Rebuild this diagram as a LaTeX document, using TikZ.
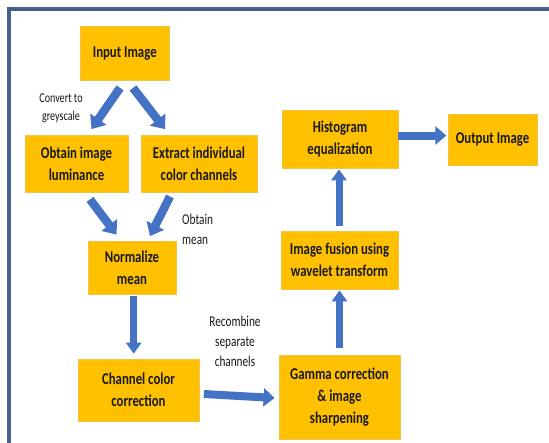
\documentclass[tikz,border=0pt]{standalone}
\usepackage{fontspec}
\usetikzlibrary{arrows.meta,calc}
\newfontfamily\boxfont[FakeStretch=0.775]{Carlito}
\newfontfamily\lblfont[FakeStretch=0.75]{Carlito}
\definecolor{boxfill}{HTML}{FFC000}
\definecolor{boxline}{HTML}{F2C24A}
\definecolor{arrowblue}{HTML}{4472C4}
\definecolor{framecol}{HTML}{41618F}
\definecolor{txt}{HTML}{1A1A1A}
\tikzset{
  stepbox/.style={draw=boxline, line width=0.8pt, fill=boxfill, inner sep=0pt,
    align=center, text=txt, font=\boxfont\bfseries\fontsize{16.5}{22}\selectfont},
  lbl/.style={inner sep=0pt, text=txt, font=\lblfont\fontsize{15}{20}\selectfont},
  diagarrow/.style={draw=arrowblue, line width=8.5pt, -{Triangle[width=19pt,length=12pt]}},
  vertarrow/.style={draw=arrowblue, line width=7pt, -{Triangle[width=15pt,length=11pt]}},
  horarrow/.style={draw=arrowblue, line width=8pt, -{Triangle[width=18pt,length=11pt]}},
}
\begin{document}
\begin{tikzpicture}[x=1pt,y=-1pt]
\useasboundingbox (0,0) rectangle (549,442);
\fill[white] (0,0) rectangle (549,442);
\draw[framecol, line width=4pt] (8.5,450) -- (8.5,9) -- (560,9);

\node[stepbox, minimum width=88.5pt, minimum height=53.5pt] (in) at (124.75,53.25) {Input Image};
\node[stepbox, minimum width=103pt, minimum height=56.5pt] (lum) at (76.5,163.75) {Obtain image\\luminance};
\node[stepbox, minimum width=116pt, minimum height=56.5pt] (ext) at (199,163.75) {Extract individual\\color channels};
\node[stepbox, minimum width=88pt, minimum height=53pt] (norm) at (132,267.5) {Normalize\\mean};
\node[stepbox, minimum width=121pt, minimum height=62pt] (chan) at (138.5,390) {Channel color\\correction};
\node[stepbox, minimum width=121pt, minimum height=84.5pt] (gam) at (339.5,397.25) {Gamma correction\\\& image\\sharpening};
\node[stepbox, minimum width=117pt, minimum height=58pt] (fus) at (339.5,260) {Image fusion using\\wavelet transform};
\node[stepbox, minimum width=116pt, minimum height=58pt] (hist) at (340,139) {Histogram\\equalization};
\node[stepbox, minimum width=89pt, minimum height=51pt] (out) at (492.5,139.5) {Output Image};

\node[lbl, align=center, font=\lblfont\fontsize{13.5}{18.5}\selectfont] (lconv) at (61,108.5) {Convert to\\greyscale};
\node[lbl, align=left, anchor=west] (lmean) at (182,229) {Obtain\\mean};
\node[lbl, align=center] (lrec) at (235,341) {Recombine\\separate\\channels};

\draw[diagarrow] ($(in.south)+(-4.75,7.5)$) -- ($(lum.north)+(15,-6)$);
\draw[diagarrow] ($(in.south)+(8.25,7.5)$) -- ($(ext.north)+(-34,-6)$);
\draw[diagarrow] ($(lum.south)+(13.5,7)$) -- ($(norm.north)+(-15.5,-6)$);
\draw[diagarrow] ($(ext.south)+(-29,4)$) -- ($(norm.north)+(18,-4.5)$);
\draw[vertarrow] ($(norm.south)+(1.7,2)$) -- ($(norm.south)+(1.7,59.3)$);
\draw[horarrow] ($(chan.east)+(4.5,4)$) -- ($(gam.west)+(-4,0.75)$);
\draw[vertarrow] ($(gam.north)+(0,-6.5)$) -- ($(fus.south)+(0,1)$);
\draw[vertarrow] ($(fus.north)+(-0.5,-4.3)$) -- ($(hist.south)+(-1,1)$);
\draw[horarrow] ($(hist.east)+(0,-3.5)$) -- ($(out.west)+(-1.3,-4)$);
\end{tikzpicture}
\end{document}
